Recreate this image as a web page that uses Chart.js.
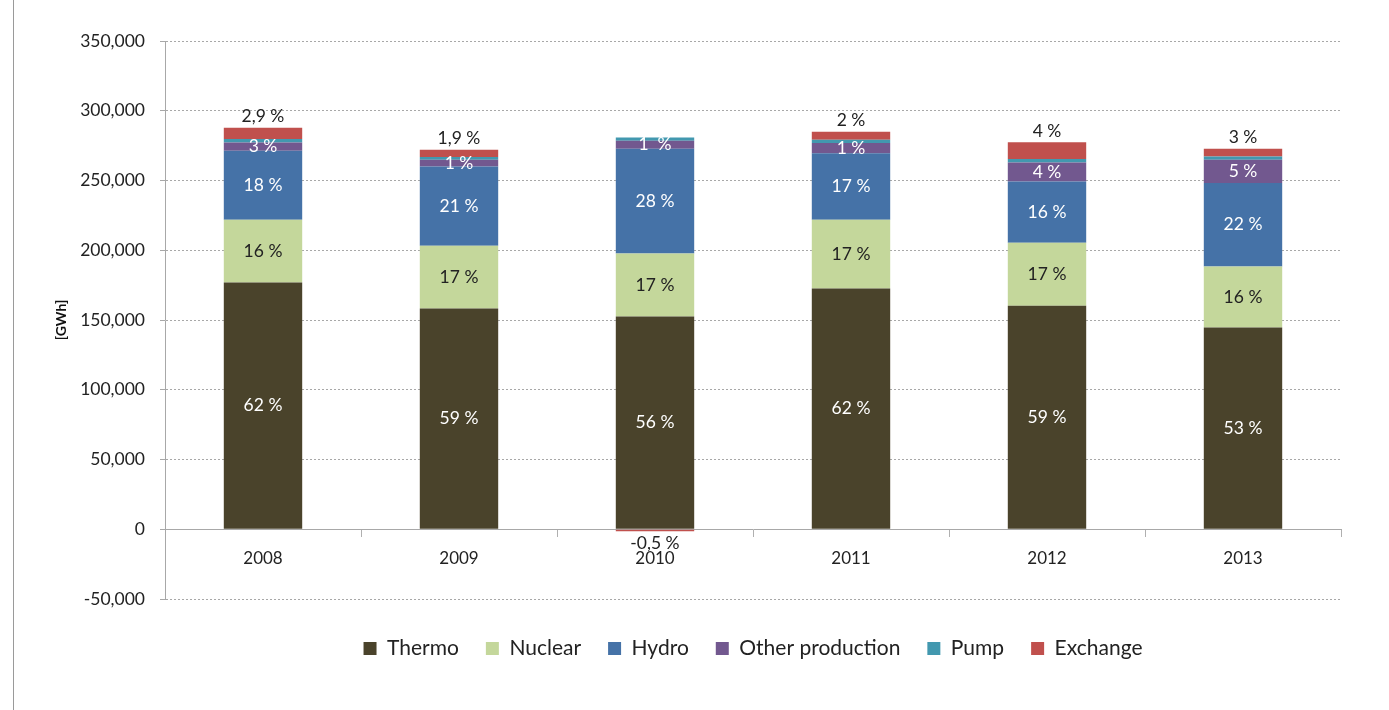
<!DOCTYPE html>
<html>
<head>
<meta charset="utf-8">
<script src="https://cdn.jsdelivr.net/npm/chart.js@4"></script>
<style>
  html, body { margin: 0; padding: 0; background: #fff; }
  #wrap { position: relative; width: 1389px; height: 710px; }
  #edge { position: absolute; left: 13px; top: 0; width: 1px; height: 710px; background: #9a9a9a; }
</style>
</head>
<body>
<div id="wrap">
  <div id="edge"></div>
  <canvas id="myChart" width="1389" height="710"></canvas>
</div>
<script>
// years on the x axis
const years = ['2008', '2009', '2010', '2011', '2012', '2013'];

// production in GWh
const thermo   = [176800, 158200, 152500, 172500, 160300, 144600];
const nuclear  = [45100, 45100, 45100, 49400, 45100, 43700];
const hydro    = [49400, 56800, 75100, 47700, 43900, 59900];
const other    = [6000, 4800, 5800, 7200, 13600, 16700];
const pump     = [2400, 1900, 2300, 2400, 2500, 2300];
const exchange = [8100, 5200, -1400, 5700, 12100, 5500];

// percentage labels printed on the bars
const thermoPct   = ['62 %', '59 %', '56 %', '62 %', '59 %', '53 %'];
const nuclearPct  = ['16 %', '17 %', '17 %', '17 %', '17 %', '16 %'];
const hydroPct    = ['18 %', '21 %', '28 %', '17 %', '16 %', '22 %'];
const otherPct    = ['3 %', '1 %', '1  %', '1 %', '4 %', '5 %'];
const pumpPct     = ['', '', '', '', '', ''];
const exchangePct = ['2,9 %', '1,9 %', '-0,5 %', '2 %', '4 %', '3 %'];

const FONT = 'Lato, "Open Sans", sans-serif';

const pctLabels = [thermoPct, nuclearPct, hydroPct, otherPct, pumpPct, exchangePct];
const pctColors = ['#ffffff', '#222222', '#ffffff', '#ffffff', '#ffffff', '#222222'];

// draws the percentages in the middle of each segment, exchange outside the end
const segLabels = {
    id: 'segLabels',
    afterDatasetsDraw(chart) {
        const ctx = chart.ctx;
        ctx.save();
        ctx.font = '17.5px ' + FONT;
        ctx.textAlign = 'center';
        ctx.textBaseline = 'middle';
        chart.data.datasets.forEach((ds, i) => {
            const meta = chart.getDatasetMeta(i);
            meta.data.forEach((bar, j) => {
                const txt = pctLabels[i][j];
                if (!txt) return;
                let y;
                if (i === 5) {
                    y = ds.data[j] >= 0 ? bar.y - 11 : bar.y + 12;
                } else {
                    y = (bar.y + bar.base) / 2;
                }
                ctx.fillStyle = pctColors[i];
                ctx.fillText(txt, bar.x, y);
            });
        });
        ctx.restore();
    }
};

const data = {
    labels: years,
    datasets: [
        { label: 'Thermo', data: thermo, backgroundColor: '#4a432b' },
        { label: 'Nuclear', data: nuclear, backgroundColor: '#c4d79b' },
        { label: 'Hydro', data: hydro, backgroundColor: '#4572a7' },
        { label: 'Other production', data: other, backgroundColor: '#72588f' },
        { label: 'Pump', data: pump, backgroundColor: '#4298af' },
        { label: 'Exchange', data: exchange, backgroundColor: '#c0504d' }
    ]
};

const config = {
    type: 'bar',
    data: data,
    options: {
        responsive: false,
        animation: false,
        locale: 'en-US',
        datasets: {
            bar: { barPercentage: 0.4, categoryPercentage: 1.0 }
        },
        layout: {
            padding: { left: 15, right: 48, top: 41, bottom: 41 }
        },
        plugins: {
            legend: {
                position: 'bottom',
                fullSize: false,
                title: {
                    display: true,
                    text: ' ',
                    padding: 0,
                    font: { family: FONT, size: 10 }
                },
                labels: {
                    boxWidth: 13,
                    boxHeight: 13,
                    padding: 27,
                    color: '#222',
                    font: { family: FONT, size: 21 }
                }
            },
            tooltip: { enabled: false }
        },
        scales: {
            x: {
                stacked: true,
                position: { y: 0 },
                grid: {
                    drawOnChartArea: false,
                    drawTicks: true,
                    tickLength: 7,
                    color: '#b0b0b0'
                },
                border: { display: true, color: '#a8a8a8' },
                ticks: {
                    color: '#222',
                    padding: 12,
                    font: { family: FONT, size: 17 }
                }
            },
            y: {
                stacked: true,
                min: -50000,
                max: 350000,
                afterFit: (scale) => { scale.width = 150; },
                grid: {
                    color: '#a8a8a8',
                    tickLength: 5,
                    tickColor: '#a8a8a8'
                },
                border: { display: true, color: '#a8a8a8', dash: [2, 2] },
                ticks: {
                    stepSize: 50000,
                    color: '#222',
                    padding: 15,
                    font: { family: FONT, size: 17.5 }
                },
                title: {
                    display: true,
                    text: '[GWh]',
                    color: '#111',
                    padding: { top: 38, bottom: 0 },
                    font: { family: FONT, size: 14, weight: 'bold' }
                }
            }
        }
    },
    plugins: [segLabels]
};

let myChart = new Chart(
    document.getElementById('myChart'),
    config
);
</script>
</body>
</html>
